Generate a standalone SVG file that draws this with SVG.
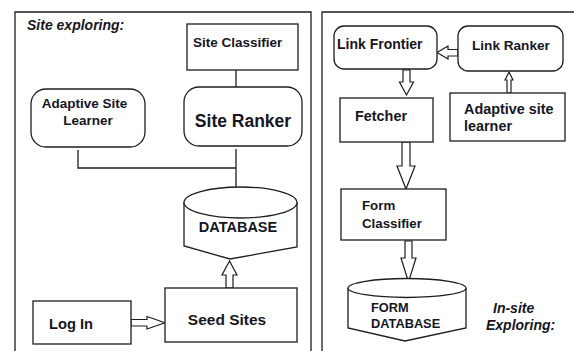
<svg xmlns="http://www.w3.org/2000/svg" width="574" height="351" viewBox="0 0 574 351">
<defs>
<style>
.ln{fill:none;stroke:#1e1e1e;stroke-width:1.3}
.bx{fill:#fff;stroke:#1e1e1e;stroke-width:1.3}
.ar{fill:#fff;stroke:#1e1e1e;stroke-width:1.2;stroke-linejoin:miter}
.t{font-family:"Liberation Sans",Arial,sans-serif;font-weight:bold;fill:#161622}
.it{font-style:italic}
</style>
</defs>
<rect width="574" height="351" fill="#fff"/>
<g id="panels">
<path class="ln" d="M15,351 V12 H311 V351"/>
<path class="ln" d="M322,351 V12 H574"/>
<text class="t it" x="27" y="30" font-size="14">Site exploring:</text>
<text class="t it" x="493" y="313" font-size="14">In-site</text>
<text class="t it" x="486" y="330" font-size="14">Exploring:</text>
</g>
<g id="connectors">
<path class="ln" d="M236,70 V87"/>
<path class="ln" d="M78,150 V168 H236"/>
<path class="ln" d="M236,149 V190"/>
<polygon class="ar" points="226,288 226,275 222,275 229.5,261 237,275 233,275 233,288"/>
<polygon class="ar" points="131,319.5 147,319.5 147,316.5 165,322.8 147,329 147,326 131,326"/>
<polygon class="ar" points="458,49.5 448,49.5 448,46 437,52.5 448,59 448,56 458,56"/>
<polygon class="ar" points="403,70 403,82 399.5,82 406.5,95 413.5,82 410,82 410,70"/>
<polygon class="ar" points="507,93 507,80 505,80 509,72 513,80 511,80 511,93"/>
<polygon class="ar" points="402,142 402,166 397,166 406,189 415,166 410,166 410,142"/>
<polygon class="ar" points="405,241 405,258 401,258 408.5,282 416,258 412,258 412,241"/>
</g>
<g id="site-classifier">
<rect class="bx" x="187" y="24" width="111" height="46"/>
<text class="t" x="193" y="47" font-size="13.5">Site Classifier</text>
</g>
<g id="site-ranker">
<rect class="bx" x="184" y="87" width="118" height="59" rx="15"/>
<text class="t" x="243" y="127" font-size="17.5" text-anchor="middle">Site Ranker</text>
</g>
<g id="adaptive-site-learner">
<rect class="bx" x="31" y="89" width="114" height="58" rx="15"/>
<text class="t" x="84.5" y="108" font-size="13.5" text-anchor="middle">Adaptive Site</text>
<text class="t" x="88" y="125" font-size="13.5" text-anchor="middle">Learner</text>
</g>
<g id="database">
<path class="bx" d="M184,202 V246 L230,259 L297,247 V202"/>
<ellipse class="bx" cx="240.5" cy="202.5" rx="56.5" ry="15.5"/>
<text class="t" x="238" y="232" font-size="14.5" text-anchor="middle">DATABASE</text>
</g>
<g id="seed-sites">
<rect class="bx" x="165" y="288" width="132" height="54"/>
<text class="t" x="227" y="325" font-size="15.5" text-anchor="middle">Seed Sites</text>
</g>
<g id="log-in">
<rect class="bx" x="33" y="301" width="98" height="43"/>
<text class="t" x="49" y="329" font-size="14.7">Log In</text>
</g>
<g id="link-frontier">
<rect class="bx" x="334" y="26" width="103" height="43" rx="10"/>
<text class="t" x="337" y="49" font-size="14">Link Frontier</text>
</g>
<g id="link-ranker">
<rect class="bx" x="458" y="26" width="105" height="45" rx="10"/>
<text class="t" x="472" y="50" font-size="13.6">Link Ranker</text>
</g>
<g id="fetcher">
<rect class="bx" x="340" y="98" width="93" height="44"/>
<text class="t" x="355" y="121" font-size="14.4">Fetcher</text>
</g>
<g id="adaptive-site-learner-2">
<rect class="bx" x="450" y="93" width="115" height="48"/>
<text class="t" x="464" y="114" font-size="14.4">Adaptive site</text>
<text class="t" x="464" y="131" font-size="14.4">learner</text>
</g>
<g id="form-classifier">
<rect class="bx" x="341" y="189" width="105" height="51"/>
<text class="t" x="362" y="210" font-size="13.3">Form</text>
<text class="t" x="362" y="228" font-size="13.3">Classifier</text>
</g>
<g id="form-database">
<path class="bx" d="M348,288 V328 L405,341 L466,328 V288"/>
<ellipse class="bx" cx="407" cy="288" rx="59" ry="9.5"/>
<text class="t" x="371" y="312" font-size="12.8">FORM</text>
<text class="t" x="371" y="328" font-size="12.8">DATABASE</text>
</g>
</svg>
